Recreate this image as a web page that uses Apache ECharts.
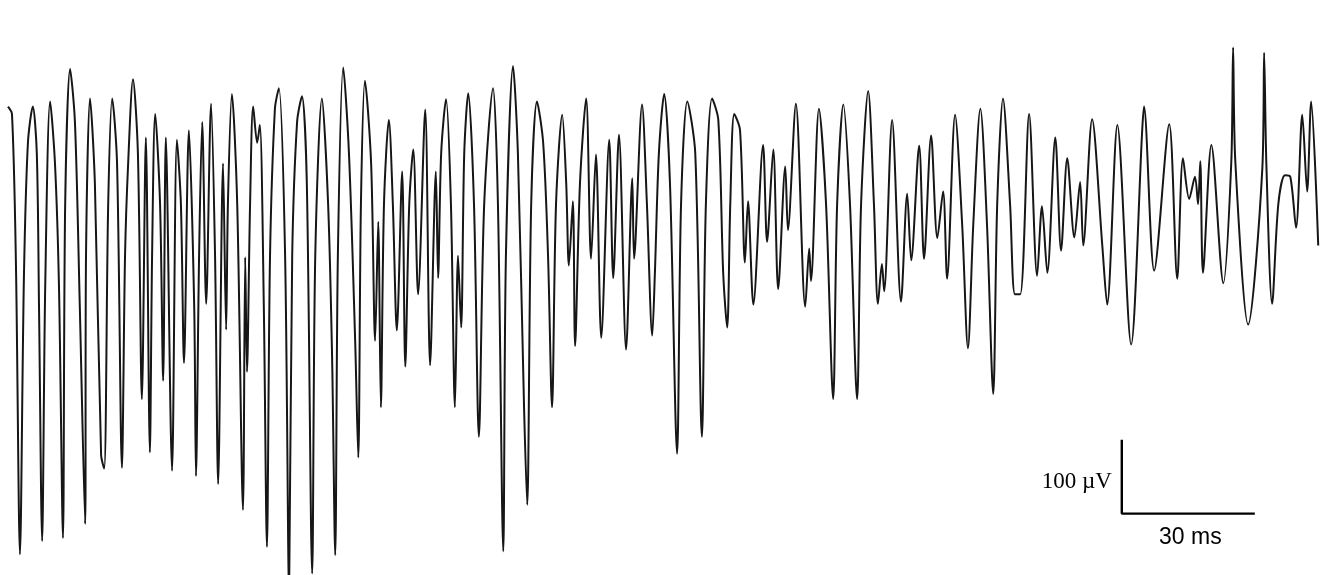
<!DOCTYPE html>
<html>
<head>
<meta charset="utf-8">
<script src="https://cdn.jsdelivr.net/npm/echarts@6/dist/echarts.min.js"></script>
<style>
  html, body { margin: 0; padding: 0; background: #ffffff; }
  #chart { width: 1320px; height: 575px; }
</style>
</head>
<body>
<div id="chart"></div>
<script>
// Recording trace: time (ms) and amplitude (µV)
const timeMs = [
  1.8, 2.7, 3.6, 4.5, 5.4, 6.3, 7.4, 8.3, 8.8, 9.5,
  10.2, 11.3, 12.4, 13.3, 14.2, 14.7, 15.8, 16.9, 18.0, 19.2,
  19.4, 20.3, 21.4, 22.8, 23.5, 24.4, 25.3, 26.4, 27.5, 28.2,
  28.9, 30.0, 31.1, 32.0, 32.9, 33.8, 34.3, 35.0, 36.1, 36.8,
  37.4, 38.8, 39.9, 40.8, 41.5, 42.6, 43.8, 44.2, 44.9, 45.6,
  46.5, 47.6, 48.5, 49.2, 50.3, 51.0, 51.4, 52.3, 53.5, 54.8,
  55.3, 55.7, 56.4, 57.1, 58.0, 58.6, 59.5, 60.2, 60.9, 62.0,
  62.9, 64.3, 65.2, 65.9, 67.0, 68.1, 69.2, 70.4, 71.1, 72.6,
  74.0, 74.9, 75.6, 76.2, 77.4, 78.7, 80.1, 80.8, 81.4, 82.3,
  83.7, 84.6, 85.3, 85.9, 86.6, 87.7, 88.6, 89.5, 90.7, 91.4,
  92.3, 93.2, 94.3, 95.9, 97.0, 98.3, 98.8, 99.5, 100.6, 101.7,
  102.6, 103.3, 104.0, 104.7, 105.6, 106.9, 108.0, 109.2, 111.2, 112.3,
  113.5, 114.1, 115.7, 116.8, 118.2, 118.9, 119.8, 121.1, 122.5, 123.6,
  124.5, 125.4, 126.8, 127.7, 128.3, 129.2, 129.7, 130.8, 132.2, 133.3,
  134.4, 135.6, 137.4, 138.3, 139.6, 141.2, 142.6, 143.0, 144.8, 145.9,
  147.1, 147.7, 148.6, 149.8, 151.1, 152.7, 153.6, 155.0, 156.8, 158.3,
  159.2, 160.6, 162.0, 163.1, 164.0, 164.7, 165.6, 166.9, 168.0, 168.7,
  169.9, 172.1, 173.0, 174.4, 175.5, 177.1, 177.7, 179.5, 181.6, 182.5,
  182.9, 184.7, 186.3, 187.9, 188.8, 190.2, 191.7, 193.3, 194.2, 195.8,
  197.1, 198.0, 198.9, 199.4, 201.2, 203.2, 204.6, 205.5, 207.3, 208.4,
  210.0, 211.4, 212.7, 213.6, 215.4, 217.0, 218.3, 219.5, 221.1, 222.6,
  224.0, 224.9, 226.2, 227.8, 228.9, 230.1, 232.1, 233.9, 235.0, 236.2,
  238.0, 239.3, 240.7, 242.3, 243.6, 244.3, 246.3, 248.6, 249.7, 252.0,
  255.1, 257.6, 258.0, 260.3, 263.7, 265.5, 266.8, 268.2, 269.5, 270.2,
  270.7, 271.3, 273.2, 275.9, 277.7, 278.1, 278.6, 281.5, 284.7, 285.1,
  285.6, 286.9, 288.3, 289.8, 291.0, 292.3, 293.7, 294.8, 295.7, 297.3
];
const ampUv = [
  271, 261, 56, -335, 42, 222, 271, 208, 0, -317,
  28, 278, 194, 28, -313, 139, 322, 250, 0, -294,
  69, 282, 167, -201, -219, 139, 282, 194, -218, 69,
  194, 308, 208, -125, 229, -197, 69, 261, 139, -100,
  229, -222, 226, 139, -76, 239, 0, -229, 69, 250,
  4, 275, 69, -240, 194, -31, 139, 288, 139, -275,
  67, -88, 139, 271, 222, 246, 0, -325, 69, 268,
  296, 69, -389, 69, 250, 285, 167, -361, 69, 282,
  139, -69, -336, 69, 324, 208, -46, -204, 139, 306,
  194, -46, 115, -136, 139, 253, 139, -32, 183, -81,
  139, 213, 17, 267, -79, 183, 39, 208, 281, 139,
  -136, 69, -28, 208, 289, 139, -176, 139, 296, 139,
  -331, 69, 326, 208, -139, -268, 139, 278, 222, 69,
  -136, 139, 260, 167, 56, 143, -53, 167, 282, 65,
  206, -42, 226, 39, 233, -58, 174, 65, 274, 139,
  -39, 46, 208, 288, 167, -199, 139, 278, 208, -176,
  139, 282, 253, 46, -28, 139, 261, 239, 60, 143,
  3, 219, 88, 213, 24, 190, 104, 275, 0, 79,
  35, 268, 139, -125, 139, 274, 139, -125, 139, 292,
  139, 4, 58, 21, 253, 7, 153, 63, 218, 65,
  232, 93, 156, 38, 260, 111, -56, 111, 268, 111,
  -118, 139, 282, 139, 17, 17, 261, 42, 136, 46,
  229, 76, 201, 94, 169, 83, 254, 83, 3, 246,
  -51, 239, 271, 49, 247, 38, 201, 146, 176, 139,
  197, 46, 219, 32, 197, 351, 197, -24, 188, 344,
  194, 4, 139, 178, 176, 107, 260, 156, 278, 83
];

// Calibration bar: 100 µV vertical, 30 ms horizontal
const scaleBarMs = [253, 253, 283];
const scaleBarUv = [-180, -280, -280];
const scaleLabels = ['100 \u00b5V', '30 ms'];

const chart = echarts.init(document.getElementById('chart'), null, { renderer: 'canvas' });

const traceData = timeMs.map((t, i) => [t, ampUv[i]]);
const barData = scaleBarMs.map((t, i) => [t, scaleBarUv[i]]);
const labelData = [
  { value: [scaleBarMs[0], (scaleBarUv[0] + scaleBarUv[1]) / 2, scaleLabels[0]],
    label: { position: 'left', distance: 10, offset: [0, 5], fontFamily: 'Liberation Serif', fontSize: 23, color: '#000000' } },
  { value: [(scaleBarMs[1] + scaleBarMs[2]) / 2, scaleBarUv[2], scaleLabels[1]],
    label: { position: 'bottom', distance: 13, offset: [2, 0], fontFamily: 'Liberation Sans', fontSize: 23, color: '#000000' } }
];

chart.setOption({
  animation: false,
  backgroundColor: '#ffffff',
  grid: { left: 0, right: 0, top: 0, bottom: 0, containLabel: false },
  xAxis: { type: 'value', min: 0, max: 297.7, show: false },
  yAxis: { type: 'value', min: -363.1, max: 415.3, show: false },
  series: [
    {
      name: 'trace',
      type: 'line',
      data: traceData,
      showSymbol: false,
      smooth: 0.3,
      clip: true,
      lineStyle: { color: '#161616', width: 2 }
    },
    {
      name: 'scale bar',
      type: 'line',
      data: barData,
      showSymbol: false,
      lineStyle: { color: '#000000', width: 2.4 }
    },
    {
      name: 'scale labels',
      type: 'scatter',
      data: labelData,
      symbolSize: 0,
      itemStyle: { color: '#000000', opacity: 1 },
      label: {
        show: true,
        color: '#000000',
        opacity: 1,
        textBorderWidth: 0,
        formatter: (p) => p.value[2]
      }
    }
  ]
});
</script>
</body>
</html>
